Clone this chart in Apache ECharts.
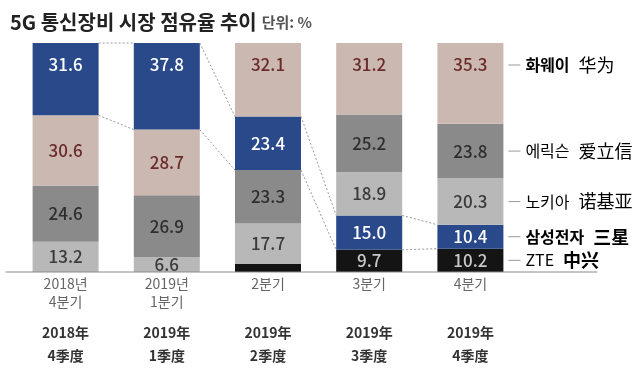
<!DOCTYPE html>
<html>
<head>
<meta charset="utf-8">
<script src="https://cdn.jsdelivr.net/npm/echarts@6/dist/echarts.min.js"></script>
<style>
  html, body { margin: 0; padding: 0; background: #fff; }
  #chart { width: 640px; height: 375px; }
</style>
</head>
<body>
<div id="chart"></div>
<script>
// 분기 라벨 (한국어 / 중국어)
const quartersKo = ['2018년\n4분기', '2019년\n1분기', '2분기', '3분기', '4분기']
const quartersZh = ['2018年\n4季度', '2019年\n1季度', '2019年\n2季度', '2019年\n3季度', '2019年\n4季度']

const companiesKo = ['화웨이', '에릭슨', '노키아', '삼성전자', 'ZTE']
const companiesZh = ['华为', '爱立信', '诺基亚', '三星', '中兴']

// 점유율 (%)
const huawei = [30.6, 28.7, 32.1, 31.2, 35.3]
const ericsson = [24.6, 26.9, 23.3, 25.2, 23.8]
const nokia = [13.2, 6.6, 17.7, 18.9, 20.3]
const samsung = [31.6, 37.8, 23.4, 15.0, 10.4]
const zte = [0, 0, 3.5, 9.7, 10.2]

const shares = [huawei, ericsson, nokia, samsung, zte]
const fills = ['#cbb8b0', '#8a8a8a', '#b8b8b8', '#29498b', '#141414']
const valueColors = ['#6b2b2b', '#2e2e2e', '#3a3a3a', '#ffffff', '#c8c8c8']
const nameColors = ['#7a3030', '#666', '#666', '#2b4a8b', '#666']
const zhColors = ['#7a3030', '#555', '#666', '#2b4a8b', '#111']
const FONT = '"Noto Sans CJK KR", "Noto Sans", sans-serif'
const SAMSUNG = 3
const HALF_BAR = 33

// 분기마다 작은 값부터 아래로 쌓는다
const cols = quartersKo.map((_, i) =>
  shares.map((arr, k) => ({ k, v: arr[i] })).sort((a, b) => a.v - b.v)
)

// 해당 분기에서 회사 k 구간의 아래/위 값
const span = (k, i) => {
  let bottom = 0
  for (const item of cols[i]) {
    if (item.k === k) return [bottom, bottom + item.v]
    bottom += item.v
  }
  return [bottom, bottom]
}

const rankSeries = [0, 1, 2, 3, 4].map(r => ({
  type: 'bar',
  stack: 'share',
  barWidth: 66,
  silent: true,
  data: cols.map(col => {
    const { k, v } = col[r]
    return {
      value: v,
      itemStyle: { color: fills[k] },
      label: {
        show: v >= 5,
        position: r === 4 ? 'insideTop' : 'inside',
        distance: 13,
        color: valueColors[k]
      }
    }
  }),
  label: {
    fontFamily: FONT,
    fontSize: 17,
    fontWeight: 500,
    formatter: p => p.value.toFixed(1)
  }
}))

// 삼성 구간을 잇는 점선
const linkSeries = {
  type: 'custom',
  silent: true,
  z: 5,
  data: [0, 1, 2, 3].map(i => [i, 0]),
  renderItem: (params, api) => {
    const i = api.value(0)
    const a = span(SAMSUNG, i)
    const b = span(SAMSUNG, i + 1)
    const style = { stroke: '#999', lineWidth: 1, lineDash: [2, 2] }
    const children = [0, 1].map(j => {
      const p1 = api.coord([i, a[j]])
      const p2 = api.coord([i + 1, b[j]])
      return {
        type: 'line',
        shape: { x1: p1[0] + HALF_BAR, y1: p1[1], x2: p2[0] - HALF_BAR, y2: p2[1] },
        style
      }
    })
    return { type: 'group', children }
  }
}

// 오른쪽 회사명 라벨
const nameSeries = {
  type: 'custom',
  silent: true,
  z: 5,
  data: companiesKo.map((_, k) => [4, k]),
  renderItem: (params, api) => {
    const k = params.dataIndex
    const last = quartersKo.length - 1
    const [lo, hi] = span(k, last)
    const isTop = cols[last][cols[last].length - 1].k === k
    let pt = api.coord([last, (lo + hi) / 2])
    if (isTop) pt = [pt[0], api.coord([last, hi])[1] + 22]
    const x0 = pt[0] + HALF_BAR
    return {
      type: 'group',
      children: [
        {
          type: 'line',
          shape: { x1: x0 + 5, y1: pt[1], x2: x0 + 17, y2: pt[1] },
          style: { stroke: '#999', lineWidth: 1 }
        },
        {
          type: 'text',
          style: {
            x: x0 + 22,
            y: pt[1],
            verticalAlign: 'middle',
            text: '{a|' + companiesKo[k] + '}{b|' + companiesZh[k] + '}',
            rich: {
              a: {
                fontFamily: FONT, fontSize: 16, color: nameColors[k],
                fontWeight: (k === 0 || k === SAMSUNG) ? 'bold' : 'normal'
              },
              b: {
                fontFamily: FONT, fontSize: 18, color: zhColors[k],
                fontWeight: (k === 4 || k === SAMSUNG) ? 'bold' : 'normal',
                padding: [0, 0, 0, 9]
              }
            }
          }
        }
      ]
    }
  }
}

// 바닥선
const baseSeries = {
  type: 'custom',
  silent: true,
  z: 4,
  data: [[0, 0]],
  renderItem: (params, api) => {
    const a = api.coord([0, 0])
    const b = api.coord([quartersKo.length - 1, 0])
    return {
      type: 'line',
      shape: { x1: a[0] - 60, y1: a[1], x2: b[0] + 127, y2: b[1] },
      style: { stroke: '#8a8a8a', lineWidth: 1 }
    }
  }
}

const chart = echarts.init(document.getElementById('chart'))

chart.setOption({
  animation: false,
  backgroundColor: '#fff',
  title: {
    left: 5,
    top: 5,
    text: '{a|5G 통신장비 시장 점유율 추이} {b|단위: %}',
    textStyle: {
      rich: {
        a: { fontFamily: FONT, fontSize: 20, fontWeight: 'bold', color: '#222', lineHeight: 24 },
        b: { fontFamily: FONT, fontSize: 15, color: '#555', lineHeight: 24 }
      }
    }
  },
  grid: { left: 15, right: 119, top: 43, bottom: 103 },
  xAxis: {
    type: 'category',
    data: quartersKo,
    axisLine: { show: false },
    axisTick: { show: false },
    axisLabel: {
      interval: 0,
      margin: 3,
      formatter: (val, idx) => {
        const ko = quartersKo[idx].split('\n')
        if (ko.length < 2) ko.push(' ')
        const zh = quartersZh[idx].split('\n')
        return ko.map(t => '{k|' + t + '}').join('\n') + '\n{s| }\n' +
          zh.map(t => '{c|' + t + '}').join('\n')
      },
      rich: {
        k: { fontFamily: FONT, fontSize: 14, color: '#666', lineHeight: 18 },
        s: { fontSize: 8, lineHeight: 10 },
        c: { fontFamily: FONT, fontSize: 14, fontWeight: 'bold', color: '#333', lineHeight: 23 }
      }
    }
  },
  yAxis: {
    type: 'value',
    min: 0,
    max: 100,
    show: false
  },
  series: [...rankSeries, linkSeries, nameSeries, baseSeries]
})
</script>
</body>
</html>
